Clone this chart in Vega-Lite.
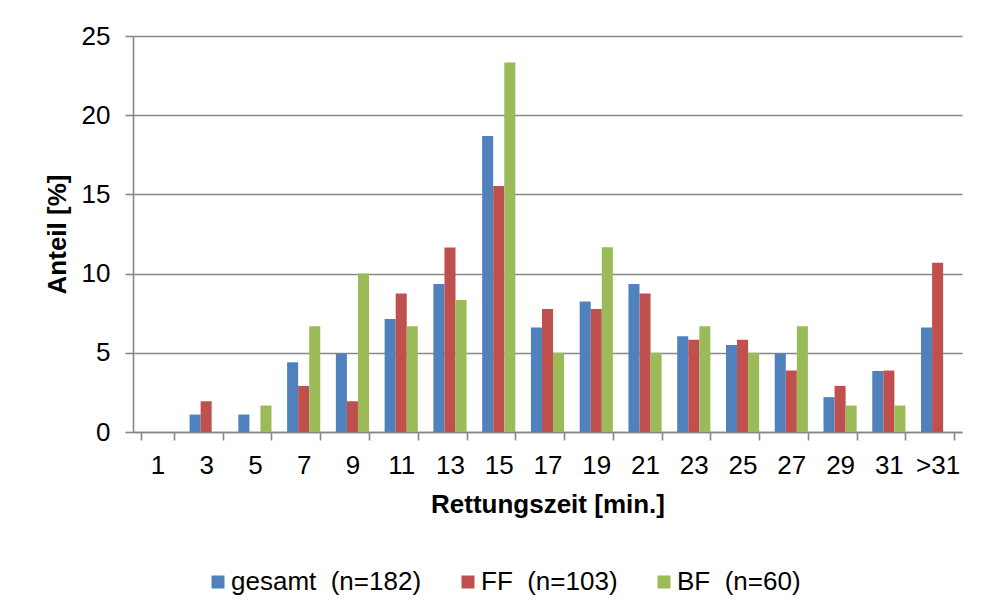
{
  "$schema": "https://vega.github.io/schema/vega-lite/v6.json",
  "width": 829,
  "height": 396,
  "autosize": {"type": "none"},
  "padding": {"left": 133, "top": 36, "right": 20, "bottom": 175},
  "background": "white",
  "config": {
    "view": {"stroke": null},
    "font": "Liberation Sans",
    "axis": {
      "labelFont": "Liberation Sans",
      "titleFont": "Liberation Sans",
      "labelFontSize": 26,
      "titleFontSize": 26,
      "labelColor": "#000000",
      "titleColor": "#000000",
      "titleFontWeight": "bold",
      "domainColor": "#888888",
      "domainWidth": 1.6,
      "tickColor": "#888888",
      "tickWidth": 1.6,
      "tickSize": 8,
      "gridColor": "#888888",
      "gridWidth": 1.5
    },
    "legend": {
      "labelFont": "Liberation Sans",
      "labelFontSize": 26,
      "labelColor": "#000000"
    }
  },
  "data": {
    "values": [
      {"zeit": "1", "gruppe": "gesamt\u00a0 (n=182)", "anteil": 0},
      {"zeit": "3", "gruppe": "gesamt\u00a0 (n=182)", "anteil": 1.10},
      {"zeit": "5", "gruppe": "gesamt\u00a0 (n=182)", "anteil": 1.10},
      {"zeit": "7", "gruppe": "gesamt\u00a0 (n=182)", "anteil": 4.40},
      {"zeit": "9", "gruppe": "gesamt\u00a0 (n=182)", "anteil": 4.95},
      {"zeit": "11", "gruppe": "gesamt\u00a0 (n=182)", "anteil": 7.14},
      {"zeit": "13", "gruppe": "gesamt\u00a0 (n=182)", "anteil": 9.34},
      {"zeit": "15", "gruppe": "gesamt\u00a0 (n=182)", "anteil": 18.68},
      {"zeit": "17", "gruppe": "gesamt\u00a0 (n=182)", "anteil": 6.59},
      {"zeit": "19", "gruppe": "gesamt\u00a0 (n=182)", "anteil": 8.24},
      {"zeit": "21", "gruppe": "gesamt\u00a0 (n=182)", "anteil": 9.34},
      {"zeit": "23", "gruppe": "gesamt\u00a0 (n=182)", "anteil": 6.04},
      {"zeit": "25", "gruppe": "gesamt\u00a0 (n=182)", "anteil": 5.49},
      {"zeit": "27", "gruppe": "gesamt\u00a0 (n=182)", "anteil": 4.95},
      {"zeit": "29", "gruppe": "gesamt\u00a0 (n=182)", "anteil": 2.20},
      {"zeit": "31", "gruppe": "gesamt\u00a0 (n=182)", "anteil": 3.85},
      {"zeit": ">31", "gruppe": "gesamt\u00a0 (n=182)", "anteil": 6.59},
      {"zeit": "1", "gruppe": "FF\u00a0 (n=103)", "anteil": 0},
      {"zeit": "3", "gruppe": "FF\u00a0 (n=103)", "anteil": 1.94},
      {"zeit": "5", "gruppe": "FF\u00a0 (n=103)", "anteil": 0},
      {"zeit": "7", "gruppe": "FF\u00a0 (n=103)", "anteil": 2.91},
      {"zeit": "9", "gruppe": "FF\u00a0 (n=103)", "anteil": 1.94},
      {"zeit": "11", "gruppe": "FF\u00a0 (n=103)", "anteil": 8.74},
      {"zeit": "13", "gruppe": "FF\u00a0 (n=103)", "anteil": 11.65},
      {"zeit": "15", "gruppe": "FF\u00a0 (n=103)", "anteil": 15.53},
      {"zeit": "17", "gruppe": "FF\u00a0 (n=103)", "anteil": 7.77},
      {"zeit": "19", "gruppe": "FF\u00a0 (n=103)", "anteil": 7.77},
      {"zeit": "21", "gruppe": "FF\u00a0 (n=103)", "anteil": 8.74},
      {"zeit": "23", "gruppe": "FF\u00a0 (n=103)", "anteil": 5.83},
      {"zeit": "25", "gruppe": "FF\u00a0 (n=103)", "anteil": 5.83},
      {"zeit": "27", "gruppe": "FF\u00a0 (n=103)", "anteil": 3.88},
      {"zeit": "29", "gruppe": "FF\u00a0 (n=103)", "anteil": 2.91},
      {"zeit": "31", "gruppe": "FF\u00a0 (n=103)", "anteil": 3.88},
      {"zeit": ">31", "gruppe": "FF\u00a0 (n=103)", "anteil": 10.68},
      {"zeit": "1", "gruppe": "BF\u00a0 (n=60)", "anteil": 0},
      {"zeit": "3", "gruppe": "BF\u00a0 (n=60)", "anteil": 0},
      {"zeit": "5", "gruppe": "BF\u00a0 (n=60)", "anteil": 1.67},
      {"zeit": "7", "gruppe": "BF\u00a0 (n=60)", "anteil": 6.67},
      {"zeit": "9", "gruppe": "BF\u00a0 (n=60)", "anteil": 10.0},
      {"zeit": "11", "gruppe": "BF\u00a0 (n=60)", "anteil": 6.67},
      {"zeit": "13", "gruppe": "BF\u00a0 (n=60)", "anteil": 8.33},
      {"zeit": "15", "gruppe": "BF\u00a0 (n=60)", "anteil": 23.33},
      {"zeit": "17", "gruppe": "BF\u00a0 (n=60)", "anteil": 5.0},
      {"zeit": "19", "gruppe": "BF\u00a0 (n=60)", "anteil": 11.67},
      {"zeit": "21", "gruppe": "BF\u00a0 (n=60)", "anteil": 5.0},
      {"zeit": "23", "gruppe": "BF\u00a0 (n=60)", "anteil": 6.67},
      {"zeit": "25", "gruppe": "BF\u00a0 (n=60)", "anteil": 5.0},
      {"zeit": "27", "gruppe": "BF\u00a0 (n=60)", "anteil": 6.67},
      {"zeit": "29", "gruppe": "BF\u00a0 (n=60)", "anteil": 1.67},
      {"zeit": "31", "gruppe": "BF\u00a0 (n=60)", "anteil": 1.67},
      {"zeit": ">31", "gruppe": "BF\u00a0 (n=60)", "anteil": 0}
    ]
  },
  "mark": {"type": "bar"},
  "encoding": {
    "x": {
      "field": "zeit",
      "type": "nominal",
      "sort": ["1", "3", "5", "7", "9", "11", "13", "15", "17", "19", "21", "23", "25", "27", "29", "31", ">31"],
      "scale": {"paddingInner": 0.32, "paddingOuter": 0.16},
      "axis": {
        "title": "Rettungszeit [min.]",
        "labelAngle": 0,
        "tickBand": "extent",
        "labelPadding": 12,
        "titlePadding": 13,
        "grid": false
      }
    },
    "xOffset": {
      "field": "gruppe",
      "type": "nominal",
      "sort": ["gesamt\u00a0 (n=182)", "FF\u00a0 (n=103)", "BF\u00a0 (n=60)"],
      "scale": {"paddingInner": 0, "paddingOuter": 0}
    },
    "y": {
      "field": "anteil",
      "type": "quantitative",
      "scale": {"domain": [0, 25], "nice": false},
      "axis": {
        "title": "Anteil [%]",
        "values": [0, 5, 10, 15, 20, 25],
        "labelPadding": 15,
        "titlePadding": 11,
        "grid": true
      }
    },
    "color": {
      "field": "gruppe",
      "type": "nominal",
      "sort": ["gesamt\u00a0 (n=182)", "FF\u00a0 (n=103)", "BF\u00a0 (n=60)"],
      "scale": {
        "domain": ["gesamt\u00a0 (n=182)", "FF\u00a0 (n=103)", "BF\u00a0 (n=60)"],
        "range": ["#4F81BD", "#C0504D", "#9BBB59"]
      },
      "legend": {
        "title": null,
        "orient": "none",
        "direction": "horizontal",
        "legendX": 72,
        "legendY": 533,
        "symbolType": "square",
        "symbolSize": 169,
        "symbolStrokeWidth": 0,
        "labelOffset": 0,
        "columnPadding": 33,
        "labelLimit": 400
      }
    }
  }
}
